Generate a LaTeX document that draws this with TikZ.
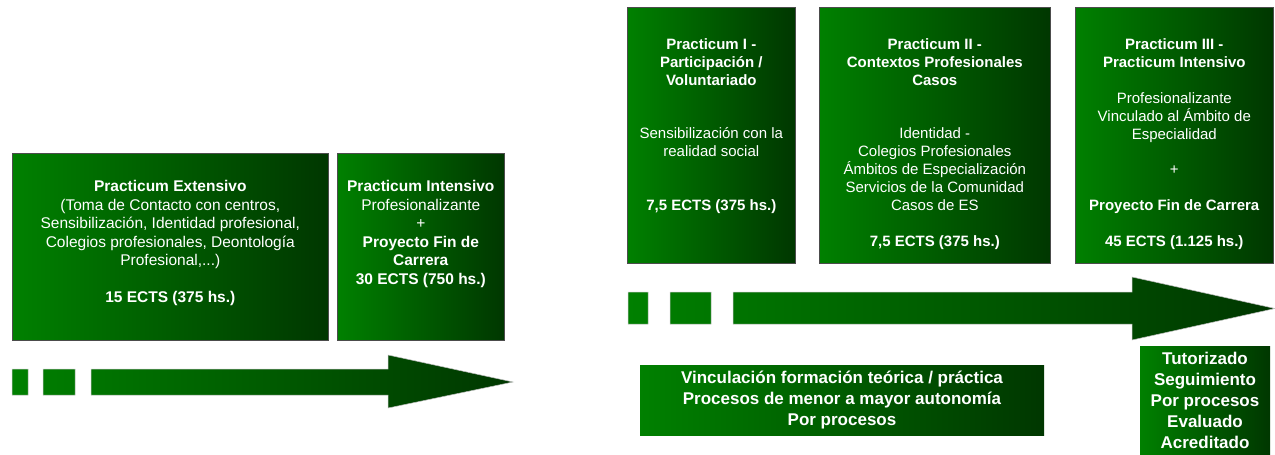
\documentclass[tikz,border=0pt]{standalone}
\usepackage{fontspec}
\setmainfont{Liberation Sans}
\usepackage{tikz}
\usetikzlibrary{calc,positioning}
\definecolor{gLight}{RGB}{0,128,0}
\definecolor{gDark}{RGB}{0,55,0}

\begin{document}
\begin{tikzpicture}[x=1pt,y=-1pt,
		caja/.style={draw=black!70,line width=0.6pt,left color=gLight,right color=gDark,inner sep=0pt,anchor=north west},
		textoL/.style={text=white,align=center,inner sep=0pt,anchor=north,font=\fontsize{15.5}{18.5}\selectfont},
		textoR/.style={text=white,align=center,inner sep=0pt,anchor=north,font=\fontsize{15}{18}\selectfont},
		lema/.style={text=white,align=center,inner sep=0pt,left color=gLight,right color=gDark,font=\bfseries\fontsize{17}{20.8}\selectfont},
		flecha/.style={draw=black!25,line width=0.5pt,left color=gLight,right color=gDark}]
		\useasboundingbox (0,0) rectangle (1275,455);
		% etapa anterior
		\node[caja,minimum width=316pt,minimum height=187pt] (ext) at (12,153) {};
		\node[caja,minimum width=167pt,minimum height=187pt] (int) at (337,153) {};
		\node[textoL] (extT) at ([yshift=-27.5pt]ext.north) {\textbf{Practicum Extensivo}\\(Toma de Contacto con centros,\\Sensibilización, Identidad profesional,\\Colegios profesionales, Deontología\\Profesional,...)\\[18.5pt]\textbf{15 ECTS (375 hs.)}};
		\node[textoL] (intT) at ([yshift=-27.5pt]int.north) {\textbf{Practicum Intensivo}\\Profesionalizante\\+\\\textbf{Proyecto Fin de}\\\textbf{Carrera}\\\textbf{30 ECTS (750 hs.)}};
		\shadedraw[flecha] (12,369) rectangle (28,395) (43,369) rectangle (75,395)
		(91,369) -- (388,369) -- (388,355) -- (513,382) -- (388,408) -- (388,395) -- (91,395) -- cycle;
		% plan nuevo
		\node[caja,minimum width=168pt,minimum height=256pt] (p1) at (627,7) {};
		\node[caja,minimum width=231pt,minimum height=256pt] (p2) at (819,7) {};
		\node[caja,minimum width=198pt,minimum height=256pt] (p3) at (1075,7) {};
		\node[textoR] (p1T) at ([yshift=-31.5pt]p1.north) {\textbf{Practicum I -}\\\textbf{Participación /}\\\textbf{Voluntariado}\\[35pt]Sensibilización con la\\realidad social\\[36pt]\textbf{7,5 ECTS (375 hs.)}};
		\node[textoR] (p2T) at ([yshift=-31.5pt]p2.north) {\textbf{Practicum II -}\\\textbf{Contextos Profesionales}\\\textbf{Casos}\\[35pt]Identidad -\\Colegios Profesionales\\Ámbitos de Especialización\\Servicios de la Comunidad\\Casos de ES\\[18pt]\textbf{7,5 ECTS (375 hs.)}};
		\node[textoR] (p3T) at ([yshift=-31.5pt]p3.north) {\textbf{Practicum III -}\\\textbf{Practicum Intensivo}\\[18pt]Profesionalizante\\Vinculado al Ámbito de\\Especialidad\\[17pt]+\\[18pt]\textbf{Proyecto Fin de Carrera}\\[18pt]\textbf{45 ECTS (1.125 hs.)}};
		\shadedraw[flecha] (628,292) rectangle (648,324) (670,292) rectangle (711,324)
		(733,292) -- (1132,292) -- (1132,277) -- (1275,308.5) -- (1132,340) -- (1132,324) -- (733,324) -- cycle;
		\node[lema,minimum width=404pt,minimum height=70pt] (vinc) at (842,400) {Vinculación formación teórica / práctica\\Procesos de menor a mayor autonomía\\Por procesos};
		\node[lema,minimum width=130pt,minimum height=109pt] (tut) at (1205,400.5) {Tutorizado\\Seguimiento\\Por procesos\\Evaluado\\Acreditado};
\end{tikzpicture}
\end{document}
